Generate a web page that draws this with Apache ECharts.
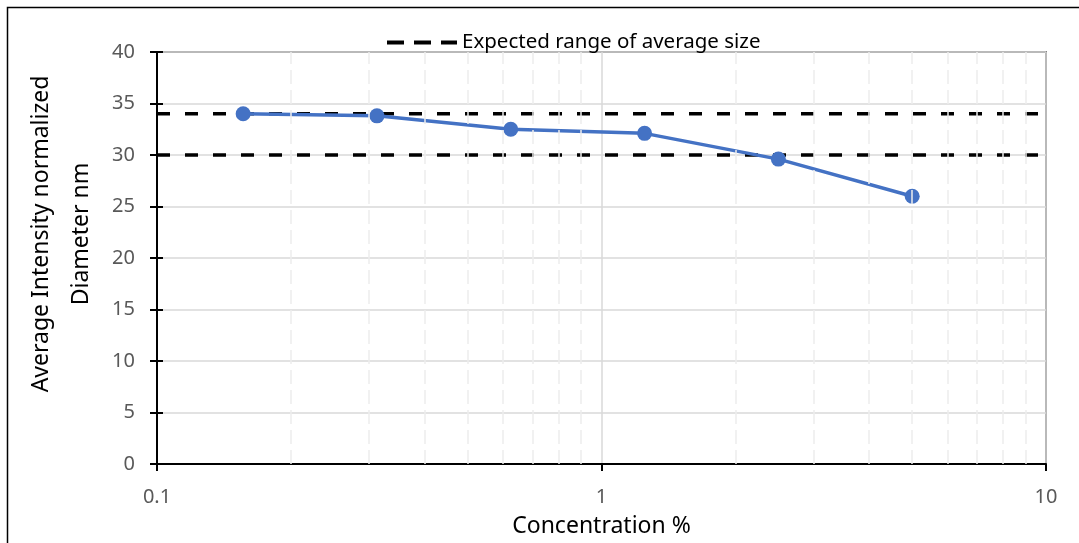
<!DOCTYPE html>
<html>
<head>
<meta charset="utf-8">
<script src="https://cdn.jsdelivr.net/npm/echarts@6/dist/echarts.min.js"></script>
<style>
  html, body { margin: 0; padding: 0; background: #fff; }
  #chart { width: 1079px; height: 543px; }
</style>
</head>
<body>
<div id="chart"></div>
<script>
// Concentration (%) of each measured sample and the measured size
const concentration = [0.15625, 0.3125, 0.625, 1.25, 2.5, 5];
const diameter = [34.0, 33.8, 32.5, 32.1, 29.6, 26.0];
// Lower and upper bound of the expected average size (nm)
const expectedRange = [30, 34];
// Axis extents
const xRange = [0.1, 10];
const yTicks = [0, 5, 10, 15, 20, 25, 30, 35, 40];
// Minor vertical guides inside each decade
const minorGuides = [0.2, 0.3, 0.4, 0.5, 0.6, 0.7, 0.8, 0.9, 2, 3, 4, 5, 6, 7, 8, 9];

const FONT = 'Noto Sans';
const legendName = 'Expected range of average size';

// Two horizontal dashed bounds drawn as one broken line
const rangeData = [];
expectedRange.forEach((v, i) => {
  if (i > 0) rangeData.push([xRange[1], '-']);
  rangeData.push([xRange[0], v], [xRange[1], v]);
});

// Legend key: three short dashes
const dashIcon = 'path://M0,0h17v4h-17z M27,0h17v4h-17z M54,0h16v4h-16z';

const chart = echarts.init(document.getElementById('chart'), null, { renderer: 'canvas' });

const yBase = {
  type: 'value',
  min: yTicks[0],
  max: yTicks[yTicks.length - 1],
  interval: 5,
  position: 'left'
};

chart.setOption({
  animation: false,
  backgroundColor: '#fff',
  textStyle: { fontFamily: FONT },
  grid: {
    left: 157, top: 52, right: 33, bottom: 79,
    show: true, borderColor: '#262626', borderWidth: 1.5, backgroundColor: 'transparent'
  },
  graphic: [{
    type: 'rect',
    shape: { x: 7.5, y: 7.5, width: 1200, height: 700 },
    style: { fill: 'none', stroke: '#000', lineWidth: 1.5 },
    silent: true, z: -1
  }],
  legend: {
    data: [{ name: legendName, icon: dashIcon, itemStyle: { color: '#000', borderWidth: 0 } }],
    left: 382, top: 27,
    itemWidth: 70, itemHeight: 4, itemGap: 6,
    textStyle: { fontFamily: FONT, fontSize: 20.5, color: '#000' }
  },
  xAxis: {
    type: 'log',
    logBase: 10,
    min: xRange[0], max: xRange[1],
    name: 'Concentration %',
    nameLocation: 'middle',
    nameGap: 51,
    nameTextStyle: { fontFamily: FONT, fontSize: 23, color: '#000' },
    axisLine: { show: true, onZero: false, lineStyle: { color: '#000', width: 2 } },
    axisTick: { show: true, inside: false, length: 7, lineStyle: { color: '#000', width: 2 } },
    axisLabel: { fontFamily: FONT, fontSize: 20, color: '#595959', margin: 23,
      formatter: v => String(v) },
    splitLine: { show: true, lineStyle: { color: '#d9d9d9', width: 1.5 } }
  },
  yAxis: [
    Object.assign({}, yBase, {
      name: 'Average Intensity normalized\nDiameter nm',
      nameLocation: 'middle',
      nameGap: 48,
      nameRotate: 90,
      nameTextStyle: {
        fontFamily: FONT, fontSize: 23, color: '#000', lineHeight: 40, align: 'center',
        padding: [0, 0, 0, 48]
      },
      axisLine: { show: true, lineStyle: { color: '#000', width: 2 } },
      axisTick: { show: true, inside: false, length: 7, lineStyle: { color: '#000', width: 2 } },
      axisLabel: { fontFamily: FONT, fontSize: 20, color: '#595959', margin: 22 },
      splitLine: { show: true, lineStyle: { color: '#d9d9d9', width: 1.5 } }
    }),
    // inner half of the crossing ticks
    Object.assign({}, yBase, {
      axisLine: { show: false },
      axisTick: { show: true, inside: true, length: 6, lineStyle: { color: '#000', width: 2 } },
      axisLabel: { show: false },
      splitLine: { show: false }
    })
  ],
  series: [
    {
      name: 'minor-guides',
      type: 'line',
      data: [],
      silent: true,
      z: 1,
      markLine: {
        silent: true,
        symbol: 'none',
        label: { show: false },
        lineStyle: { color: '#ededed', width: 1.5, type: [14, 6] },
        data: minorGuides.map(v => ({ xAxis: v }))
      }
    },
    {
      name: legendName,
      type: 'line',
      data: rangeData,
      symbol: 'none',
      connectNulls: false,
      z: 3,
      lineStyle: { color: '#000', width: 3.5, type: [13, 15] },
      itemStyle: { color: '#000' }
    },
    {
      name: 'Average size',
      type: 'line',
      data: concentration.map((c, i) => [c, diameter[i]]),
      symbol: 'circle',
      symbolSize: 15,
      z: 4,
      lineStyle: { color: '#4472C4', width: 3.5 },
      itemStyle: { color: '#4472C4' }
    }
  ]
});
</script>
</body>
</html>
